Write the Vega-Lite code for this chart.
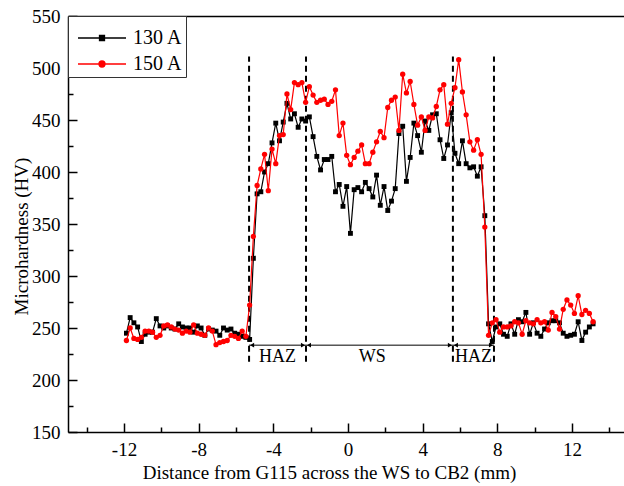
{
 "$schema": "https://vega.github.io/schema/vega-lite/v6.json",
 "width": 556, "height": 416,
 "autosize": {"type": "none"},
 "padding": {"left": 68, "top": 16, "right": 0, "bottom": 54},
 "background": "white",
 "config": {"view": {"stroke": null}, "font": "Liberation Serif"},
 "datasets": {
  "hv": [
   {"s":"130 A","x":-11.87,"y":245},{"s":"130 A","x":-11.67,"y":260},{"s":"130 A","x":-11.47,"y":255},{"s":"130 A","x":-11.27,"y":251},{"s":"130 A","x":-11.07,"y":237},{"s":"130 A","x":-10.87,"y":244},{"s":"130 A","x":-10.67,"y":246},{"s":"130 A","x":-10.47,"y":246},{"s":"130 A","x":-10.27,"y":259},{"s":"130 A","x":-10.07,"y":252},
   {"s":"130 A","x":-9.87,"y":250},{"s":"130 A","x":-9.67,"y":252},{"s":"130 A","x":-9.47,"y":250},{"s":"130 A","x":-9.27,"y":249},{"s":"130 A","x":-9.07,"y":254},{"s":"130 A","x":-8.87,"y":251},{"s":"130 A","x":-8.67,"y":250},{"s":"130 A","x":-8.47,"y":250},{"s":"130 A","x":-8.27,"y":246},{"s":"130 A","x":-8.07,"y":252},
   {"s":"130 A","x":-7.87,"y":250},{"s":"130 A","x":-7.67,"y":243},{"s":"130 A","x":-7.47,"y":249},{"s":"130 A","x":-7.27,"y":248},{"s":"130 A","x":-7.07,"y":247},{"s":"130 A","x":-6.87,"y":243},{"s":"130 A","x":-6.67,"y":250},{"s":"130 A","x":-6.47,"y":248},{"s":"130 A","x":-6.27,"y":249},{"s":"130 A","x":-6.07,"y":245},
   {"s":"130 A","x":-5.87,"y":244},{"s":"130 A","x":-5.67,"y":242},{"s":"130 A","x":-5.47,"y":241},{"s":"130 A","x":-5.27,"y":239},{"s":"130 A","x":-5.07,"y":317},{"s":"130 A","x":-4.87,"y":379},{"s":"130 A","x":-4.67,"y":381},{"s":"130 A","x":-4.47,"y":400},{"s":"130 A","x":-4.27,"y":408},{"s":"130 A","x":-4.07,"y":428},
   {"s":"130 A","x":-3.87,"y":447},{"s":"130 A","x":-3.67,"y":430},{"s":"130 A","x":-3.47,"y":448},{"s":"130 A","x":-3.27,"y":466},{"s":"130 A","x":-3.07,"y":451},{"s":"130 A","x":-2.87,"y":456},{"s":"130 A","x":-2.67,"y":443},{"s":"130 A","x":-2.47,"y":451},{"s":"130 A","x":-2.27,"y":449},{"s":"130 A","x":-2.07,"y":453},
   {"s":"130 A","x":-1.87,"y":434},{"s":"130 A","x":-1.67,"y":415},{"s":"130 A","x":-1.47,"y":402},{"s":"130 A","x":-1.27,"y":412},{"s":"130 A","x":-1.07,"y":412},{"s":"130 A","x":-0.87,"y":415},{"s":"130 A","x":-0.67,"y":381},{"s":"130 A","x":-0.47,"y":388},{"s":"130 A","x":-0.27,"y":367},{"s":"130 A","x":-0.07,"y":386},
   {"s":"130 A","x":0.13,"y":341},{"s":"130 A","x":0.33,"y":383},{"s":"130 A","x":0.53,"y":385},{"s":"130 A","x":0.73,"y":381},{"s":"130 A","x":0.93,"y":390},{"s":"130 A","x":1.13,"y":384},{"s":"130 A","x":1.33,"y":376},{"s":"130 A","x":1.53,"y":397},{"s":"130 A","x":1.73,"y":368},{"s":"130 A","x":1.93,"y":386},
   {"s":"130 A","x":2.13,"y":363},{"s":"130 A","x":2.33,"y":372},{"s":"130 A","x":2.53,"y":384},{"s":"130 A","x":2.73,"y":437},{"s":"130 A","x":2.93,"y":444},{"s":"130 A","x":3.13,"y":391},{"s":"130 A","x":3.33,"y":414},{"s":"130 A","x":3.53,"y":447},{"s":"130 A","x":3.73,"y":435},{"s":"130 A","x":3.93,"y":419},
   {"s":"130 A","x":4.13,"y":449},{"s":"130 A","x":4.33,"y":440},{"s":"130 A","x":4.53,"y":455},{"s":"130 A","x":4.73,"y":456},{"s":"130 A","x":4.93,"y":431},{"s":"130 A","x":5.13,"y":413},{"s":"130 A","x":5.33,"y":426},{"s":"130 A","x":5.53,"y":457},{"s":"130 A","x":5.73,"y":418},{"s":"130 A","x":5.93,"y":408},
   {"s":"130 A","x":6.13,"y":430},{"s":"130 A","x":6.33,"y":408},{"s":"130 A","x":6.53,"y":404},{"s":"130 A","x":6.73,"y":405},{"s":"130 A","x":6.93,"y":396},{"s":"130 A","x":7.13,"y":405},{"s":"130 A","x":7.33,"y":358},{"s":"130 A","x":7.53,"y":254},{"s":"130 A","x":7.73,"y":237},{"s":"130 A","x":7.93,"y":251},
   {"s":"130 A","x":8.13,"y":254},{"s":"130 A","x":8.33,"y":244},{"s":"130 A","x":8.53,"y":242},{"s":"130 A","x":8.73,"y":254},{"s":"130 A","x":8.93,"y":244},{"s":"130 A","x":9.13,"y":258},{"s":"130 A","x":9.33,"y":256},{"s":"130 A","x":9.53,"y":265},{"s":"130 A","x":9.73,"y":244},{"s":"130 A","x":9.93,"y":255},
   {"s":"130 A","x":10.13,"y":245},{"s":"130 A","x":10.33,"y":242},{"s":"130 A","x":10.53,"y":249},{"s":"130 A","x":10.73,"y":255},{"s":"130 A","x":10.93,"y":257},{"s":"130 A","x":11.13,"y":257},{"s":"130 A","x":11.33,"y":255},{"s":"130 A","x":11.53,"y":245},{"s":"130 A","x":11.73,"y":242},{"s":"130 A","x":11.93,"y":243},
   {"s":"130 A","x":12.13,"y":244},{"s":"130 A","x":12.33,"y":256},{"s":"130 A","x":12.53,"y":238},{"s":"130 A","x":12.73,"y":246},{"s":"130 A","x":12.93,"y":251},{"s":"130 A","x":13.13,"y":254},
   {"s":"150 A","x":-11.87,"y":238},{"s":"150 A","x":-11.67,"y":250},{"s":"150 A","x":-11.47,"y":240},{"s":"150 A","x":-11.27,"y":239},{"s":"150 A","x":-11.07,"y":241},{"s":"150 A","x":-10.87,"y":247},{"s":"150 A","x":-10.67,"y":247},{"s":"150 A","x":-10.47,"y":246},{"s":"150 A","x":-10.27,"y":241},{"s":"150 A","x":-10.07,"y":243},
   {"s":"150 A","x":-9.87,"y":252},{"s":"150 A","x":-9.67,"y":253},{"s":"150 A","x":-9.47,"y":251},{"s":"150 A","x":-9.27,"y":249},{"s":"150 A","x":-9.07,"y":248},{"s":"150 A","x":-8.87,"y":245},{"s":"150 A","x":-8.67,"y":247},{"s":"150 A","x":-8.47,"y":246},{"s":"150 A","x":-8.27,"y":253},{"s":"150 A","x":-8.07,"y":245},
   {"s":"150 A","x":-7.87,"y":244},{"s":"150 A","x":-7.67,"y":243},{"s":"150 A","x":-7.47,"y":250},{"s":"150 A","x":-7.27,"y":247},{"s":"150 A","x":-7.07,"y":234},{"s":"150 A","x":-6.87,"y":236},{"s":"150 A","x":-6.67,"y":237},{"s":"150 A","x":-6.47,"y":238},{"s":"150 A","x":-6.27,"y":243},{"s":"150 A","x":-6.07,"y":242},
   {"s":"150 A","x":-5.87,"y":240},{"s":"150 A","x":-5.67,"y":247},{"s":"150 A","x":-5.47,"y":242},{"s":"150 A","x":-5.27,"y":272},{"s":"150 A","x":-5.07,"y":338},{"s":"150 A","x":-4.87,"y":387},{"s":"150 A","x":-4.67,"y":403},{"s":"150 A","x":-4.47,"y":417},{"s":"150 A","x":-4.27,"y":382},{"s":"150 A","x":-4.07,"y":422},
   {"s":"150 A","x":-3.87,"y":408},{"s":"150 A","x":-3.67,"y":435},{"s":"150 A","x":-3.47,"y":436},{"s":"150 A","x":-3.27,"y":475},{"s":"150 A","x":-3.07,"y":460},{"s":"150 A","x":-2.87,"y":486},{"s":"150 A","x":-2.67,"y":484},{"s":"150 A","x":-2.47,"y":486},{"s":"150 A","x":-2.27,"y":467},{"s":"150 A","x":-2.07,"y":482},
   {"s":"150 A","x":-1.87,"y":474},{"s":"150 A","x":-1.67,"y":467},{"s":"150 A","x":-1.47,"y":469},{"s":"150 A","x":-1.27,"y":470},{"s":"150 A","x":-1.07,"y":465},{"s":"150 A","x":-0.87,"y":468},{"s":"150 A","x":-0.67,"y":479},{"s":"150 A","x":-0.47,"y":435},{"s":"150 A","x":-0.27,"y":447},{"s":"150 A","x":-0.07,"y":416},
   {"s":"150 A","x":0.13,"y":407},{"s":"150 A","x":0.33,"y":414},{"s":"150 A","x":0.53,"y":420},{"s":"150 A","x":0.73,"y":426},{"s":"150 A","x":0.93,"y":408},{"s":"150 A","x":1.13,"y":408},{"s":"150 A","x":1.33,"y":419},{"s":"150 A","x":1.53,"y":429},{"s":"150 A","x":1.73,"y":439},{"s":"150 A","x":1.93,"y":433},
   {"s":"150 A","x":2.13,"y":462},{"s":"150 A","x":2.33,"y":469},{"s":"150 A","x":2.53,"y":472},{"s":"150 A","x":2.73,"y":440},{"s":"150 A","x":2.93,"y":494},{"s":"150 A","x":3.13,"y":476},{"s":"150 A","x":3.33,"y":487},{"s":"150 A","x":3.53,"y":465},{"s":"150 A","x":3.73,"y":445},{"s":"150 A","x":3.93,"y":453},
   {"s":"150 A","x":4.13,"y":440},{"s":"150 A","x":4.33,"y":453},{"s":"150 A","x":4.53,"y":452},{"s":"150 A","x":4.73,"y":463},{"s":"150 A","x":4.93,"y":479},{"s":"150 A","x":5.13,"y":484},{"s":"150 A","x":5.33,"y":446},{"s":"150 A","x":5.53,"y":466},{"s":"150 A","x":5.73,"y":481},{"s":"150 A","x":5.93,"y":508},
   {"s":"150 A","x":6.13,"y":477},{"s":"150 A","x":6.33,"y":455},{"s":"150 A","x":6.53,"y":429},{"s":"150 A","x":6.73,"y":421},{"s":"150 A","x":6.93,"y":431},{"s":"150 A","x":7.13,"y":417},{"s":"150 A","x":7.33,"y":347},{"s":"150 A","x":7.53,"y":243},{"s":"150 A","x":7.73,"y":255},{"s":"150 A","x":7.93,"y":258},
   {"s":"150 A","x":8.13,"y":246},{"s":"150 A","x":8.33,"y":251},{"s":"150 A","x":8.53,"y":251},{"s":"150 A","x":8.73,"y":252},{"s":"150 A","x":8.93,"y":256},{"s":"150 A","x":9.13,"y":255},{"s":"150 A","x":9.33,"y":244},{"s":"150 A","x":9.53,"y":257},{"s":"150 A","x":9.73,"y":255},{"s":"150 A","x":9.93,"y":254},
   {"s":"150 A","x":10.13,"y":258},{"s":"150 A","x":10.33,"y":255},{"s":"150 A","x":10.53,"y":256},{"s":"150 A","x":10.73,"y":248},{"s":"150 A","x":10.93,"y":265},{"s":"150 A","x":11.13,"y":261},{"s":"150 A","x":11.33,"y":249},{"s":"150 A","x":11.53,"y":268},{"s":"150 A","x":11.73,"y":277},{"s":"150 A","x":11.93,"y":272},
   {"s":"150 A","x":12.13,"y":264},{"s":"150 A","x":12.33,"y":281},{"s":"150 A","x":12.53,"y":263},{"s":"150 A","x":12.73,"y":267},{"s":"150 A","x":12.93,"y":264},{"s":"150 A","x":13.13,"y":256}
  ],
  "zones": [{"x": -5.3, "y1": 217.5, "y2": 511}, {"x": -2.25, "y1": 217.5, "y2": 511}, {"x": 5.62, "y1": 217.5, "y2": 511}, {"x": 7.82, "y1": 217.5, "y2": 511}],
  "spans": [{"a": -5.3, "b": -2.25, "y": 233.5, "mid": -3.78, "name": "HAZ"}, {"a": -2.25, "b": 5.62, "y": 233.5, "mid": 1.3, "name": "WS"}, {"a": 5.62, "b": 7.82, "y": 233.5, "mid": 6.72, "name": "HAZ"}]
 },
 "resolve": {"axis": {"x": "independent", "y": "independent"}},
 "layer": [
  {
   "data": {"name": "zones"},
   "mark": {"type": "rule", "color": "black", "strokeWidth": 2, "strokeDash": [6, 4]},
   "encoding": {
    "x": {"field": "x", "type": "quantitative", "scale": {"domain": [-15, 14.786], "nice": false, "zero": false},
     "axis": {"orient": "bottom", "values": [-14,-12,-10,-8,-6,-4,-2,0,2,4,6,8,10,12,14],
      "labelExpr": "datum.value % 4 === 0 ? toString(datum.value) : ''",
      "tickSize": {"condition": {"test": "datum.value % 4 === 0", "value": -9}, "value": -5},
      "tickColor": "black", "tickWidth": 1.5, "domainColor": "black", "domainWidth": 1.5, "grid": false,
      "labelFont": "Liberation Serif", "labelFontSize": 19, "labelColor": "black", "labelPadding": 17, "labelFlush": false,
      "title": "Distance from G115 across the WS to CB2 (mm)", "titleFont": "Liberation Serif", "titleFontSize": 19, "titleFontWeight": "normal", "titleColor": "black",
      "titleX": 261, "titleY": 46, "titleBaseline": "alphabetic"}},
    "y": {"field": "y1", "type": "quantitative", "scale": {"domain": [150, 550], "nice": false, "zero": false}, "axis": null},
    "y2": {"field": "y2"}
   }
  },
  {
   "data": {"name": "spans"},
   "mark": {"type": "rule", "color": "black", "strokeWidth": 1},
   "encoding": {
    "x": {"field": "a", "type": "quantitative", "axis": {"orient": "top", "ticks": false, "labels": false, "title": null, "domainColor": "black", "domainWidth": 1.5, "grid": false}},
    "x2": {"field": "b"},
    "y": {"field": "y", "type": "quantitative",
     "axis": {"orient": "left", "values": [150,175,200,225,250,275,300,325,350,375,400,425,450,475,500,525,550],
      "labelExpr": "datum.value % 50 === 0 ? datum.label : ''",
      "tickSize": {"condition": {"test": "datum.value % 50 === 0", "value": -9}, "value": -5},
      "tickColor": "black", "tickWidth": 1.5, "domainColor": "black", "domainWidth": 1.5, "grid": false,
      "labelFont": "Liberation Serif", "labelFontSize": 19, "labelColor": "black", "labelPadding": 17, "labelFlush": false,
      "title": "Microhardness (HV)", "titleFont": "Liberation Serif", "titleFontSize": 19, "titleFontWeight": "normal", "titleColor": "black",
      "titleX": -41, "titleY": 220, "titleBaseline": "alphabetic", "titleAngle": -90}}
   }
  },
  {
   "data": {"name": "spans"},
   "mark": {"type": "point", "shape": "triangle-left", "filled": true, "color": "black", "size": 22, "opacity": 1, "xOffset": 3},
   "encoding": {
    "x": {"field": "a", "type": "quantitative", "axis": null},
    "y": {"field": "y", "type": "quantitative", "axis": null}
   }
  },
  {
   "data": {"name": "spans"},
   "mark": {"type": "point", "shape": "triangle-right", "filled": true, "color": "black", "size": 22, "opacity": 1, "xOffset": -3},
   "encoding": {
    "x": {"field": "b", "type": "quantitative", "axis": null},
    "y": {"field": "y", "type": "quantitative", "axis": null}
   }
  },
  {
   "data": {"name": "spans"},
   "mark": {"type": "text", "font": "Liberation Serif", "fontSize": 18, "color": "black", "baseline": "middle", "align": "center", "dy": 12},
   "encoding": {
    "x": {"field": "mid", "type": "quantitative", "axis": null},
    "y": {"field": "y", "type": "quantitative", "axis": null},
    "text": {"field": "name"}
   }
  },
  {
   "data": {"name": "hv"},
   "transform": [{"filter": "datum.s === '130 A'"}],
   "mark": {"type": "line", "strokeWidth": 1.2},
   "encoding": {
    "x": {"field": "x", "type": "quantitative", "axis": null},
    "y": {"field": "y", "type": "quantitative", "axis": null},
    "color": {"field": "s", "type": "nominal", "scale": {"domain": ["130 A", "150 A"], "range": ["black", "red"]},
     "legend": {"orient": "top-left", "offset": 0, "padding": 3, "title": " ", "titleFontSize": 1, "titlePadding": 7, "strokeColor": "#333", "fillColor": "white",
      "symbolSize": 400, "rowPadding": 5, "labelOffset": 40, "labelFont": "Liberation Serif", "labelFontSize": 20, "labelColor": "black", "labelLimit": 200,
      "encode": {"symbols": {"update": {
        "shape": {"signal": "datum.value === '130 A' ? 'M-0.4,0H4.4M1.75,-0.25H2.25V0.25H1.75Z' : 'M-0.4,0H4.4M2.3,0A0.3,0.3,0,1,1,1.7,0A0.3,0.3,0,1,1,2.3,0Z'"},
        "fill": {"signal": "datum.value === '130 A' ? 'black' : 'red'"},
        "stroke": {"signal": "datum.value === '130 A' ? 'black' : 'red'"},
        "strokeWidth": {"value": 1.3}, "opacity": {"value": 1}}}}}}
   }
  },
  {
   "data": {"name": "hv"},
   "transform": [{"filter": "datum.s === '130 A'"}],
   "mark": {"type": "point", "shape": "square", "filled": true, "color": "black", "size": 24, "opacity": 1},
   "encoding": {
    "x": {"field": "x", "type": "quantitative", "axis": null},
    "y": {"field": "y", "type": "quantitative", "axis": null}
   }
  },
  {
   "data": {"name": "hv"},
   "transform": [{"filter": "datum.s === '150 A'"}],
   "mark": {"type": "line", "strokeWidth": 1.2},
   "encoding": {
    "x": {"field": "x", "type": "quantitative", "axis": null},
    "y": {"field": "y", "type": "quantitative", "axis": null},
    "color": {"field": "s", "type": "nominal"}
   }
  },
  {
   "data": {"name": "hv"},
   "transform": [{"filter": "datum.s === '150 A'"}],
   "mark": {"type": "point", "shape": "circle", "filled": true, "color": "red", "size": 28, "opacity": 1},
   "encoding": {
    "x": {"field": "x", "type": "quantitative", "axis": null},
    "y": {"field": "y", "type": "quantitative", "axis": null}
   }
  }
 ]
}
